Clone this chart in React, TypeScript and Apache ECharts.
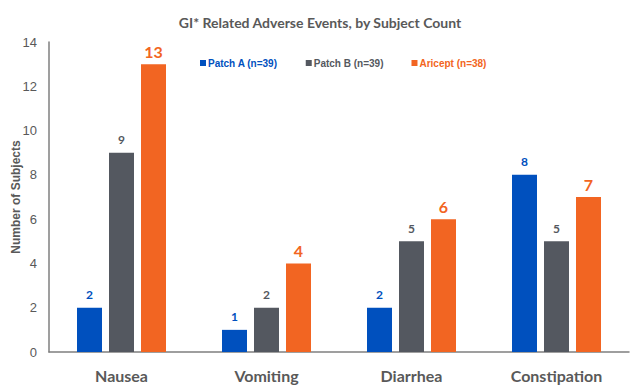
import React, { useEffect, useRef } from "react";
import * as echarts from "echarts";

const categories = ["Nausea", "Vomiting", "Diarrhea", "Constipation"];
const patchA = [2, 1, 2, 8];
const patchB = [9, 2, 5, 5];
const aricept = [13, 4, 6, 7];
const seriesNames = ["Patch A (n=39)", "Patch B (n=39)", "Aricept (n=38)"];
const colors = ["#0050BE", "#545860", "#F26522"];

export default function App() {
  const ref = useRef<HTMLDivElement>(null);
  useEffect(() => {
    const chart = echarts.init(ref.current!, null, { renderer: "svg" });
    const mk = (name: string, data: number[], i: number, big: boolean) => ({
      name,
      type: "bar",
      data,
      barWidth: 25,
      barGap: "28%",
      itemStyle: { color: colors[i] },
      label: {
        show: true,
        position: "top",
        distance: big ? 5 : 7,
        color: colors[i],
        fontWeight: "bold",
        fontSize: big ? 16 : 12,
        fontFamily: "Lato, Open Sans, sans-serif",
      },
    });
    chart.setOption({
      animation: false,
      title: {
        text: "GI* Related Adverse Events, by Subject Count",
        left: "center",
        top: 10,
        textStyle: {
          fontSize: 14,
          fontWeight: "bold",
          color: "#595959",
          fontFamily: "Lato, Open Sans, sans-serif",
        },
      },
      legend: {
        top: 53,
        left: 195,
        itemGap: 28,
        itemWidth: 6,
        itemHeight: 6,
        icon: "rect",
        data: seriesNames.map((n, i) => ({
          name: n,
          textStyle: { color: colors[i] },
        })),
        textStyle: {
          fontSize: 10,
          fontWeight: "bold",
          fontFamily: "Liberation Sans, Arial, sans-serif",
          padding: [0, 0, 0, -3],
        },
      },
      grid: { left: 49, right: 11, top: 42, bottom: 40, outerBoundsMode: "none" },
      xAxis: {
        type: "category",
        data: categories,
        axisLine: { lineStyle: { color: "#7f7f7f", width: 1.5 } },
        axisTick: { show: false },
        axisLabel: {
          color: "#595959",
          fontSize: 16,
          fontWeight: "bold",
          margin: 15,
          fontFamily: "Lato, Open Sans, sans-serif",
        },
      },
      yAxis: {
        type: "value",
        min: 0,
        max: 14,
        interval: 2,
        name: "Number of Subjects",
        nameLocation: "middle",
        nameGap: 27,
        nameMoveOverlap: false,
        nameTextStyle: {
          color: "#595959",
          fontSize: 12,
          fontWeight: "bold",
          fontFamily: "Liberation Sans, Arial, sans-serif",
        },
        axisLine: { show: true, lineStyle: { color: "#7f7f7f", width: 1.5 } },
        axisTick: { show: false },
        splitLine: { show: false },
        axisLabel: {
          color: "#595959",
          fontSize: 13,
          margin: 12,
          fontFamily: "Liberation Sans, Arial, sans-serif",
        },
      },
      series: [
        mk(seriesNames[0], patchA, 0, false),
        mk(seriesNames[1], patchB, 1, false),
        mk(seriesNames[2], aricept, 2, true),
      ],
    });
    return () => chart.dispose();
  }, []);
  return <div ref={ref} style={{ width: 640, height: 392, position: "absolute", left: 0, top: 0 }} />;
}
